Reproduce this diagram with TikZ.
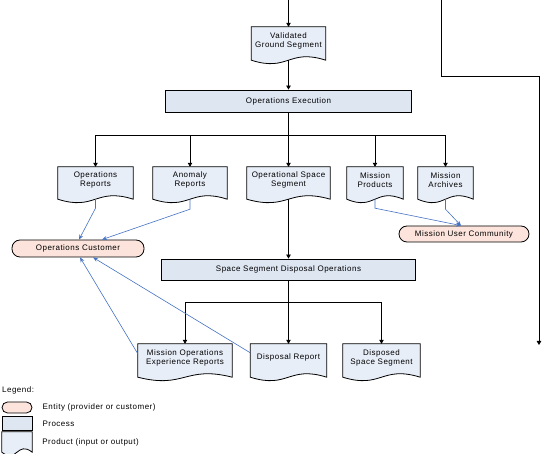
\documentclass[tikz,border=0pt]{standalone}
\usepackage{fontspec}
\setmainfont{Liberation Sans}[LetterSpace=6]
\usetikzlibrary{calc,positioning,backgrounds,arrows.meta}
\definecolor{DocFill}{HTML}{E8EEF8}
\definecolor{ProcFill}{HTML}{DEE6F2}
\definecolor{EntityFill}{HTML}{FCE4DC}
\definecolor{LinkBlue}{HTML}{4472C4}
\tikzset{
    boxline/.style={draw=black, line width=0.8pt},
    procbox/.style={boxline, fill=ProcFill, inner sep=0pt},
    entitybox/.style={boxline, fill=EntityFill, rounded corners=8pt, inner sep=0pt},
    docbox/.style={inner sep=0pt},
    doctext/.style={align=center, yshift=3pt, inner sep=0pt},
    flow/.style={line width=0.8pt, -{Triangle[width=4.5pt,length=4pt]}},
    link/.style={LinkBlue, line width=0.6pt, -{Stealth[width=4pt,length=5pt]}}
}
\newcommand{\docnode}[5]{%
    \node[docbox, minimum width=#3, minimum height=#4,
          label={[doctext]center:{#5}}] (#1) at (#2) {};
    \begin{scope}[on background layer]
        \filldraw[boxline, fill=DocFill]
            (#1.south east) -- (#1.north east) -- (#1.north west) -- (#1.south west)
            .. controls ($(#1.south)+(0,12)$) and ($(#1.south)+(0,-12)$) .. (#1.south east) -- cycle;
    \end{scope}%
}

\begin{document}
\begin{tikzpicture}[x=1pt, y=-1pt, font=\fontsize{8pt}{9pt}\selectfont]
    \useasboundingbox (0,0) rectangle (542,454);

    \docnode{valid}{288.5,43.5}{74pt}{33pt}{Validated\\Ground Segment}
    \node[procbox, minimum width=246pt, minimum height=22pt] (opsexec) at (288.5,101) {Operations Execution};

    \docnode{opsrep}{95.5,183}{75pt}{32pt}{Operations\\Reports}
    \docnode{anomaly}{190,183}{74pt}{32pt}{Anomaly\\Reports}
    \docnode{opspace}{288.5,183}{83pt}{32pt}{Operational Space\\Segment}
    \docnode{missprod}{375,183}{56pt}{32pt}{Mission\\Products}
    \docnode{missarch}{445.5,183}{55pt}{32pt}{Mission\\Archives}

    \node[entitybox, minimum width=132pt, minimum height=17pt] (opscust) at (78,248.5) {Operations Customer};
    \node[entitybox, minimum width=130pt, minimum height=16pt] (usercomm) at (464,234) {Mission User Community};

    \node[procbox, minimum width=254pt, minimum height=21pt] (disposal) at (288.5,269.5) {Space Segment Disposal Operations};

    \docnode{expreps}{185,360.5}{94pt}{33pt}{Mission Operations\\Experience Reports}
    \docnode{disprep}{288.5,360.5}{76pt}{33pt}{Disposal Report}
    \docnode{disposed}{381.5,360.5}{77pt}{33pt}{Disposed\\Space Segment}

    % black flow lines
    \coordinate (feedin) at (288.5,0);
    \draw[flow] (feedin) -- (valid.north);
    \draw[flow] (valid.south) -- (opsexec.north);
    \foreach \doc in {opsrep,anomaly,opspace,missprod,missarch}
        \draw[flow] (opsexec.south) -- ++(0,23) -| (\doc.north);
    \draw[flow] (opspace.south) -- (disposal.north);
    \foreach \doc in {expreps,disprep,disposed}
        \draw[flow] (disposal.south) -- ++(0,22) -| (\doc.north);

    \coordinate (archin) at (441,0);
    \coordinate (archout) at (539,345);
    \draw[flow] (archin) -- ++(0,76) -| (archout);

    % blue links to customers
    \draw[link] (opsrep.south) -- ++(0,9) -- ($(opscust.north)+(1,0)$);
    \draw[link] (anomaly.south) -- ++(0,10) -- ($(opscust.north)+(24,0)$);
    \draw[link] ($(expreps.north west)+(0,10)$) -- ($(opscust.south)+(2,0)$);
    \draw[link] ($(disprep.north west)+(0,9)$) -- ($(opscust.south)+(15,0)$);
    \draw[link] (missprod.south) -- ++(0,9) -- ($(usercomm.north)+(-3,0)$);
    \draw[link] (missarch.south) -- ++(0,10) -- ($(usercomm.north)+(-3,0)$);

    % legend
    \node[anchor=west, inner sep=0pt] (legtitle) at (2,390) {Legend:};
    \node[entitybox, minimum width=30pt, minimum height=11pt, rounded corners=5.5pt] (legentity) at (17,407.5) {};
    \node[procbox, minimum width=30pt, minimum height=14pt] (legproc) at (17,423.5) {};
    \docnode{legprod}{17,442}{30pt}{20pt}{}
    \node[right=10pt of legentity, inner sep=0pt] (legentitytxt) {Entity (provider or customer)};
    \node[right=10pt of legproc, inner sep=0pt] (legproctxt) {Process};
    \node[right=10pt of legprod, inner sep=0pt] (legprodtxt) {Product (input or output)};
\end{tikzpicture}
\end{document}
